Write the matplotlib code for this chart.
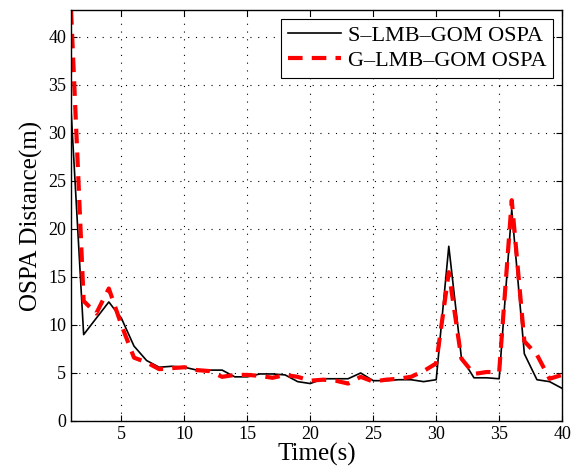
import numpy as np
import matplotlib.pyplot as plt

plt.rcParams['font.family'] = ['Liberation Serif', 'DejaVu Serif']

t = np.arange(1, 41)
s_lmb = [32.4, 9.0, 10.7, 12.4, 10.7, 7.8, 6.3, 5.6, 5.7, 5.6,
         5.3, 5.3, 5.3, 4.6, 4.6, 4.9, 4.9, 4.8, 4.1, 3.9,
         4.4, 4.4, 4.4, 5.0, 4.2, 4.2, 4.3, 4.3, 4.1, 4.3,
         18.2, 6.6, 4.5, 4.5, 4.4, 22.0, 7.0, 4.3, 4.1, 3.4]
g_lmb = [42.8, 12.5, 11.2, 13.8, 10.0, 6.6, 6.1, 5.4, 5.5, 5.6,
         5.3, 5.2, 4.6, 4.8, 4.8, 4.7, 4.5, 4.8, 4.6, 4.2,
         4.3, 4.2, 3.9, 4.6, 4.1, 4.3, 4.4, 4.6, 5.2, 6.0,
         15.5, 6.5, 4.9, 5.1, 5.1, 23.0, 8.3, 6.9, 4.4, 4.8]

fig = plt.figure(figsize=(5.73, 4.75), dpi=100)
ax = fig.add_axes([0.124, 0.1137, 0.857, 0.865])

ax.plot(t, s_lmb, color='black', lw=1.2, label='S\u2013LMB\u2013GOM OSPA')
ax.plot(t, g_lmb, color='red', lw=3, ls=(0, (3.5, 2.2)), label='G\u2013LMB\u2013GOM OSPA')

ax.set_xlim(1, 40)
ax.set_ylim(0, 42.8)
ax.set_xticks([5, 10, 15, 20, 25, 30, 35, 40])
ax.set_yticks(range(0, 45, 5))
ax.grid(True, ls=(0, (1, 6)), color='black', lw=0.8)
ax.tick_params(direction='in', top=True, right=True, labelsize=13, length=4)
for sp in ax.spines.values():
    sp.set_linewidth(1.0)

ax.set_xlabel('Time(s)', fontsize=18, labelpad=0)
ax.set_ylabel('OSPA Distance(m)', fontsize=18, labelpad=4)

leg = ax.legend(loc='upper right', fontsize=16, fancybox=False, framealpha=1,
                edgecolor='black', handlelength=2.4, borderaxespad=0.4,
                borderpad=0.3, labelspacing=0.2, handletextpad=0.3)
leg.get_frame().set_linewidth(0.8)

fig.savefig('out.png', dpi=100)
